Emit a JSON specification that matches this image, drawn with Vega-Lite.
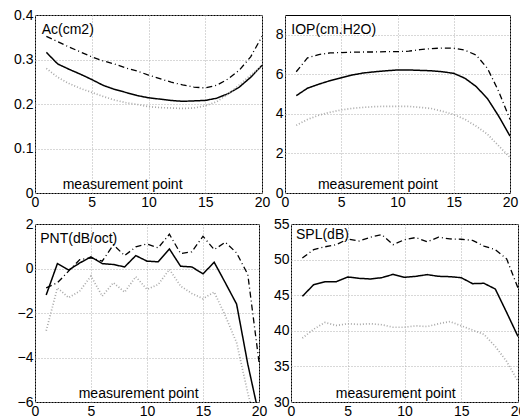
{
  "$schema": "https://vega.github.io/schema/vega-lite/v6.json",
  "padding": {"left": 13, "top": 7, "right": 0, "bottom": 0},
  "background": "white",
  "datasets": {
    "lines": [
      {"p":"Ac","x":1,"upper":0.352,"mean":0.316,"lower":0.28},
      {"p":"Ac","x":2,"upper":0.34,"mean":0.29,"lower":0.26},
      {"p":"Ac","x":3,"upper":0.328,"mean":0.278,"lower":0.246},
      {"p":"Ac","x":4,"upper":0.317,"mean":0.267,"lower":0.235},
      {"p":"Ac","x":5,"upper":0.306,"mean":0.255,"lower":0.226},
      {"p":"Ac","x":6,"upper":0.297,"mean":0.242,"lower":0.217},
      {"p":"Ac","x":7,"upper":0.29,"mean":0.233,"lower":0.209},
      {"p":"Ac","x":8,"upper":0.281,"mean":0.226,"lower":0.203},
      {"p":"Ac","x":9,"upper":0.274,"mean":0.219,"lower":0.199},
      {"p":"Ac","x":10,"upper":0.265,"mean":0.214,"lower":0.194},
      {"p":"Ac","x":11,"upper":0.257,"mean":0.211,"lower":0.192},
      {"p":"Ac","x":12,"upper":0.249,"mean":0.208,"lower":0.191},
      {"p":"Ac","x":13,"upper":0.243,"mean":0.206,"lower":0.19},
      {"p":"Ac","x":14,"upper":0.238,"mean":0.207,"lower":0.191},
      {"p":"Ac","x":15,"upper":0.236,"mean":0.208,"lower":0.196},
      {"p":"Ac","x":16,"upper":0.242,"mean":0.213,"lower":0.205},
      {"p":"Ac","x":17,"upper":0.256,"mean":0.223,"lower":0.222},
      {"p":"Ac","x":18,"upper":0.276,"mean":0.238,"lower":0.243},
      {"p":"Ac","x":19,"upper":0.306,"mean":0.26,"lower":0.265},
      {"p":"Ac","x":20,"upper":0.352,"mean":0.287,"lower":0.285},
      {"p":"IOP","x":1,"upper":6.13,"mean":4.92,"lower":3.42},
      {"p":"IOP","x":2,"upper":6.83,"mean":5.3,"lower":3.72},
      {"p":"IOP","x":3,"upper":7.0,"mean":5.5,"lower":3.93},
      {"p":"IOP","x":4,"upper":7.08,"mean":5.68,"lower":4.08},
      {"p":"IOP","x":5,"upper":7.1,"mean":5.83,"lower":4.2},
      {"p":"IOP","x":6,"upper":7.12,"mean":5.97,"lower":4.28},
      {"p":"IOP","x":7,"upper":7.13,"mean":6.07,"lower":4.33},
      {"p":"IOP","x":8,"upper":7.13,"mean":6.13,"lower":4.37},
      {"p":"IOP","x":9,"upper":7.15,"mean":6.18,"lower":4.38},
      {"p":"IOP","x":10,"upper":7.15,"mean":6.22,"lower":4.38},
      {"p":"IOP","x":11,"upper":7.17,"mean":6.22,"lower":4.38},
      {"p":"IOP","x":12,"upper":7.25,"mean":6.2,"lower":4.33},
      {"p":"IOP","x":13,"upper":7.3,"mean":6.18,"lower":4.27},
      {"p":"IOP","x":14,"upper":7.33,"mean":6.13,"lower":4.13},
      {"p":"IOP","x":15,"upper":7.32,"mean":6.05,"lower":3.97},
      {"p":"IOP","x":16,"upper":7.22,"mean":5.8,"lower":3.72},
      {"p":"IOP","x":17,"upper":6.97,"mean":5.38,"lower":3.38},
      {"p":"IOP","x":18,"upper":6.3,"mean":4.77,"lower":2.97},
      {"p":"IOP","x":19,"upper":5.13,"mean":3.88,"lower":2.38},
      {"p":"IOP","x":20,"upper":3.72,"mean":2.88,"lower":1.8},
      {"p":"PNT","x":1,"upper":-0.87,"mean":-1.19,"lower":-2.8},
      {"p":"PNT","x":2,"upper":-0.64,"mean":0.22,"lower":-0.87},
      {"p":"PNT","x":3,"upper":-0.12,"mean":-0.07,"lower":-1.31},
      {"p":"PNT","x":4,"upper":0.4,"mean":0.25,"lower":-1.01},
      {"p":"PNT","x":5,"upper":0.48,"mean":0.52,"lower":-0.34},
      {"p":"PNT","x":6,"upper":0.33,"mean":0.22,"lower":-1.24},
      {"p":"PNT","x":7,"upper":1.07,"mean":0.18,"lower":-0.64},
      {"p":"PNT","x":8,"upper":0.58,"mean":0.07,"lower":-1.06},
      {"p":"PNT","x":9,"upper":0.97,"mean":0.58,"lower":-0.37},
      {"p":"PNT","x":10,"upper":1.1,"mean":0.33,"lower":-0.94},
      {"p":"PNT","x":11,"upper":0.93,"mean":0.3,"lower":-0.72},
      {"p":"PNT","x":12,"upper":1.54,"mean":0.88,"lower":-0.04},
      {"p":"PNT","x":13,"upper":0.67,"mean":0.1,"lower":-0.79},
      {"p":"PNT","x":14,"upper":0.75,"mean":0.07,"lower":-1.12},
      {"p":"PNT","x":15,"upper":1.45,"mean":-0.24,"lower":-1.36},
      {"p":"PNT","x":16,"upper":0.85,"mean":0.28,"lower":-1.06},
      {"p":"PNT","x":17,"upper":1.18,"mean":-0.65,"lower":-2.13},
      {"p":"PNT","x":18,"upper":0.7,"mean":-1.6,"lower":-3.33},
      {"p":"PNT","x":19,"upper":-0.27,"mean":-4.3,"lower":-5.6},
      {"p":"PNT","x":20,"upper":-4.2,"mean":-6.6,"lower":-7.5},
      {"p":"SPL","x":1,"upper":50.23,"mean":44.84,"lower":38.97},
      {"p":"SPL","x":2,"upper":51.4,"mean":46.48,"lower":40.23},
      {"p":"SPL","x":3,"upper":51.8,"mean":46.9,"lower":41.17},
      {"p":"SPL","x":4,"upper":52.1,"mean":46.9,"lower":40.75},
      {"p":"SPL","x":5,"upper":52.9,"mean":47.56,"lower":40.99},
      {"p":"SPL","x":6,"upper":52.6,"mean":47.37,"lower":40.9},
      {"p":"SPL","x":7,"upper":53.15,"mean":47.28,"lower":40.99},
      {"p":"SPL","x":8,"upper":53.5,"mean":47.46,"lower":40.85},
      {"p":"SPL","x":9,"upper":52.1,"mean":47.93,"lower":40.5},
      {"p":"SPL","x":10,"upper":52.8,"mean":47.51,"lower":40.5},
      {"p":"SPL","x":11,"upper":53.1,"mean":47.65,"lower":40.7},
      {"p":"SPL","x":12,"upper":52.5,"mean":47.89,"lower":40.6},
      {"p":"SPL","x":13,"upper":53.15,"mean":47.65,"lower":40.99},
      {"p":"SPL","x":14,"upper":52.9,"mean":47.6,"lower":41.3},
      {"p":"SPL","x":15,"upper":52.86,"mean":47.46,"lower":40.7},
      {"p":"SPL","x":16,"upper":52.7,"mean":46.62,"lower":40.1},
      {"p":"SPL","x":17,"upper":51.9,"mean":46.67,"lower":39.5},
      {"p":"SPL","x":18,"upper":51.4,"mean":45.87,"lower":37.8},
      {"p":"SPL","x":19,"upper":50.1,"mean":42.58,"lower":35.7},
      {"p":"SPL","x":20,"upper":46.0,"mean":39.2,"lower":32.9}
    ]
  },
  "config": {
    "view": {"stroke": "black", "strokeWidth": 1},
    "font": "Liberation Sans",
    "axis": {
      "domain": false,
      "ticks": false,
      "grid": true,
      "gridColor": "#b0b0b0",
      "gridDash": [1, 2],
      "gridWidth": 1,
      "labelFont": "Liberation Sans",
      "labelFontSize": 14,
      "labelColor": "black",
      "labelPadding": 2,
      "labelFlush": false,
      "labelOverlap": false
    },
    "text": {"font": "Liberation Sans", "fontSize": 14, "color": "black", "align": "left", "baseline": "alphabetic"},
    "line": {"clip": true}
  },
  "vconcat": [
    {
      "spacing": 3,
      "hconcat": [
        {
          "width": 227, "height": 178,
          "layer": [
            {
              "data": {"name": "lines"},
              "transform": [{"filter": "datum.p === 'Ac'"}, {"fold": ["upper", "mean", "lower"], "as": ["s", "v"]}],
              "mark": {"type": "line", "clip": true},
              "encoding": {
                "x": {"field": "x", "type": "quantitative", "title": null, "scale": {"domain": [0, 20], "nice": false}, "axis": {"values": [0, 5, 10, 15, 20]}},
                "y": {"field": "v", "type": "quantitative", "title": null, "scale": {"domain": [0, 0.4], "nice": false, "zero": false}, "axis": {"values": [0, 0.1, 0.2, 0.3, 0.4], "format": "~g"}},
                "detail": {"field": "s"},
                "color": {"field": "s", "type": "nominal", "legend": null, "scale": {"domain": ["upper", "mean", "lower"], "range": ["black", "black", "#a8a8a8"]}},
                "strokeDash": {"field": "s", "type": "nominal", "legend": null, "scale": {"domain": ["upper", "mean", "lower"], "range": [[6, 3, 1, 3], [1, 0], [1, 2]]}},
                "strokeWidth": {"field": "s", "type": "nominal", "legend": null, "scale": {"domain": ["upper", "mean", "lower"], "range": [1.3, 1.7, 1]}}
              }
            },
            {
              "data": {"values": [{}]},
              "mark": {"type": "text"},
              "encoding": {"x": {"datum": 0.59, "type": "quantitative", "title": null, "axis": {"values": [0, 5, 10, 15, 20]}}, "y": {"datum": 0.357, "type": "quantitative", "title": null, "axis": {"values": [0, 0.1, 0.2, 0.3, 0.4], "format": "~g"}}, "text": {"value": "Ac(cm2)"}}
            },
            {
              "data": {"values": [{}]},
              "mark": {"type": "text"},
              "encoding": {"x": {"datum": 2.44, "type": "quantitative", "title": null, "axis": {"values": [0, 5, 10, 15, 20]}}, "y": {"datum": 0.008, "type": "quantitative", "title": null, "axis": {"values": [0, 0.1, 0.2, 0.3, 0.4], "format": "~g"}}, "text": {"value": "measurement point"}}
            }
          ]
        },
        {
          "width": 225, "height": 178,
          "layer": [
            {
              "data": {"name": "lines"},
              "transform": [{"filter": "datum.p === 'IOP'"}, {"fold": ["upper", "mean", "lower"], "as": ["s", "v"]}],
              "mark": {"type": "line", "clip": true},
              "encoding": {
                "x": {"field": "x", "type": "quantitative", "title": null, "scale": {"domain": [0, 20], "nice": false}, "axis": {"values": [0, 5, 10, 15, 20]}},
                "y": {"field": "v", "type": "quantitative", "title": null, "scale": {"domain": [0, 9], "nice": false, "zero": false}, "axis": {"values": [0, 2, 4, 6, 8], "format": "~g"}},
                "detail": {"field": "s"},
                "color": {"field": "s", "type": "nominal", "legend": null, "scale": {"domain": ["upper", "mean", "lower"], "range": ["black", "black", "#a8a8a8"]}},
                "strokeDash": {"field": "s", "type": "nominal", "legend": null, "scale": {"domain": ["upper", "mean", "lower"], "range": [[6, 3, 1, 3], [1, 0], [1, 2]]}},
                "strokeWidth": {"field": "s", "type": "nominal", "legend": null, "scale": {"domain": ["upper", "mean", "lower"], "range": [1.3, 1.7, 1]}}
              }
            },
            {
              "data": {"values": [{}]},
              "mark": {"type": "text"},
              "encoding": {"x": {"datum": 0.56, "type": "quantitative", "title": null, "axis": {"values": [0, 5, 10, 15, 20]}}, "y": {"datum": 8.04, "type": "quantitative", "title": null, "axis": {"values": [0, 2, 4, 6, 8], "format": "~g"}}, "text": {"value": "IOP(cm.H2O)"}}
            },
            {
              "data": {"values": [{}]},
              "mark": {"type": "text"},
              "encoding": {"x": {"datum": 2.93, "type": "quantitative", "title": null, "axis": {"values": [0, 5, 10, 15, 20]}}, "y": {"datum": 0.19, "type": "quantitative", "title": null, "axis": {"values": [0, 2, 4, 6, 8], "format": "~g"}}, "text": {"value": "measurement point"}}
            }
          ]
        }
      ]
    },
    {
      "spacing": 4,
      "hconcat": [
        {
          "width": 224, "height": 178,
          "layer": [
            {
              "data": {"name": "lines"},
              "transform": [{"filter": "datum.p === 'PNT'"}, {"fold": ["upper", "mean", "lower"], "as": ["s", "v"]}],
              "mark": {"type": "line", "clip": true},
              "encoding": {
                "x": {"field": "x", "type": "quantitative", "title": null, "scale": {"domain": [0, 20], "nice": false}, "axis": {"values": [0, 5, 10, 15, 20]}},
                "y": {"field": "v", "type": "quantitative", "title": null, "scale": {"domain": [-6, 2], "nice": false, "zero": false}, "axis": {"values": [-6, -4, -2, 0, 2], "format": "~g"}},
                "detail": {"field": "s"},
                "color": {"field": "s", "type": "nominal", "legend": null, "scale": {"domain": ["upper", "mean", "lower"], "range": ["black", "black", "#a8a8a8"]}},
                "strokeDash": {"field": "s", "type": "nominal", "legend": null, "scale": {"domain": ["upper", "mean", "lower"], "range": [[6, 3, 1, 3], [1, 0], [1, 2]]}},
                "strokeWidth": {"field": "s", "type": "nominal", "legend": null, "scale": {"domain": ["upper", "mean", "lower"], "range": [1.3, 1.7, 1]}}
              }
            },
            {
              "data": {"values": [{}]},
              "mark": {"type": "text"},
              "encoding": {"x": {"datum": 0.47, "type": "quantitative", "title": null, "axis": {"values": [0, 5, 10, 15, 20]}}, "y": {"datum": 1.15, "type": "quantitative", "title": null, "axis": {"values": [-6, -4, -2, 0, 2], "format": "~g"}}, "text": {"value": "PNT(dB/oct)"}}
            },
            {
              "data": {"values": [{}]},
              "mark": {"type": "text"},
              "encoding": {"x": {"datum": 3.9, "type": "quantitative", "title": null, "axis": {"values": [0, 5, 10, 15, 20]}}, "y": {"datum": -5.82, "type": "quantitative", "title": null, "axis": {"values": [-6, -4, -2, 0, 2], "format": "~g"}}, "text": {"value": "measurement point"}}
            }
          ]
        },
        {
          "width": 227, "height": 178,
          "layer": [
            {
              "data": {"name": "lines"},
              "transform": [{"filter": "datum.p === 'SPL'"}, {"fold": ["upper", "mean", "lower"], "as": ["s", "v"]}],
              "mark": {"type": "line", "clip": true},
              "encoding": {
                "x": {"field": "x", "type": "quantitative", "title": null, "scale": {"domain": [0, 20], "nice": false}, "axis": {"values": [0, 5, 10, 15, 20]}},
                "y": {"field": "v", "type": "quantitative", "title": null, "scale": {"domain": [30, 55], "nice": false, "zero": false}, "axis": {"values": [30, 35, 40, 45, 50, 55], "format": "~g"}},
                "detail": {"field": "s"},
                "color": {"field": "s", "type": "nominal", "legend": null, "scale": {"domain": ["upper", "mean", "lower"], "range": ["black", "black", "#a8a8a8"]}},
                "strokeDash": {"field": "s", "type": "nominal", "legend": null, "scale": {"domain": ["upper", "mean", "lower"], "range": [[6, 3, 1, 3], [1, 0], [1, 2]]}},
                "strokeWidth": {"field": "s", "type": "nominal", "legend": null, "scale": {"domain": ["upper", "mean", "lower"], "range": [1.3, 1.7, 1]}}
              }
            },
            {
              "data": {"values": [{}]},
              "mark": {"type": "text"},
              "encoding": {"x": {"datum": 0.44, "type": "quantitative", "title": null, "axis": {"values": [0, 5, 10, 15, 20]}}, "y": {"datum": 52.9, "type": "quantitative", "title": null, "axis": {"values": [30, 35, 40, 45, 50, 55], "format": "~g"}}, "text": {"value": "SPL(dB)"}}
            },
            {
              "data": {"values": [{}]},
              "mark": {"type": "text"},
              "encoding": {"x": {"datum": 3.94, "type": "quantitative", "title": null, "axis": {"values": [0, 5, 10, 15, 20]}}, "y": {"datum": 30.56, "type": "quantitative", "title": null, "axis": {"values": [30, 35, 40, 45, 50, 55], "format": "~g"}}, "text": {"value": "measurement point"}}
            }
          ]
        }
      ]
    }
  ],
  "spacing": 6,
  "resolve": {"scale": {"color": "independent", "strokeDash": "independent", "strokeWidth": "independent"}}
}
